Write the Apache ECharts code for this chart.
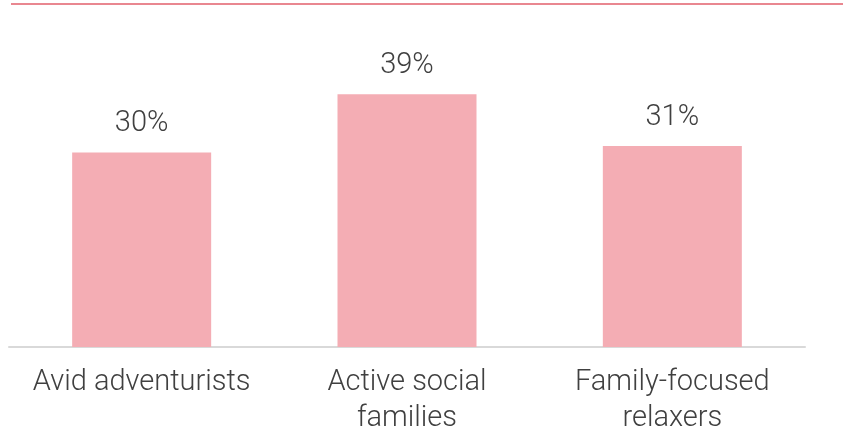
<!DOCTYPE html>
<html><head><meta charset="utf-8">
<script src="https://cdn.jsdelivr.net/npm/echarts@6/dist/echarts.min.js"></script>
<style>html,body{margin:0;padding:0;background:#fff}#c{width:843px;height:437px}</style>
</head><body><div id="c"></div>
<script>
const categories = ['Avid adventurists', 'Active social\nfamilies', 'Family-focused\nrelaxers'];
const values = [30, 39, 31];

const chart = echarts.init(document.getElementById('c'), null, {renderer: 'canvas'});
chart.setOption({
  animation: false,
  grid: {left: 9, right: 38, top: 23, bottom: 85, containLabel: false},
  graphic: [{
    type: 'line', shape: {x1: 11, y1: 4, x2: 843, y2: 4},
    style: {stroke: '#E98790', lineWidth: 2}
  }],
  xAxis: {
    type: 'category', data: categories,
    axisLine: {lineStyle: {color: '#d9d9d9', width: 2}},
    axisTick: {show: false},
    axisLabel: {fontFamily: 'Roboto', fontWeight: 300, fontSize: 29, color: '#404040', margin: 18, lineHeight: 36, interval: 0}
  },
  yAxis: {type: 'value', min: 0, max: 50, show: false, splitLine: {show: false}},
  series: [{
    type: 'bar', data: values, barWidth: 139,
    itemStyle: {color: '#F4ADB4'},
    label: {show: true, position: 'top', distance: 14, formatter: '{c}%', fontFamily: 'Roboto', fontWeight: 300, fontSize: 29, color: '#404040'}
  }]
});
</script></body></html>
